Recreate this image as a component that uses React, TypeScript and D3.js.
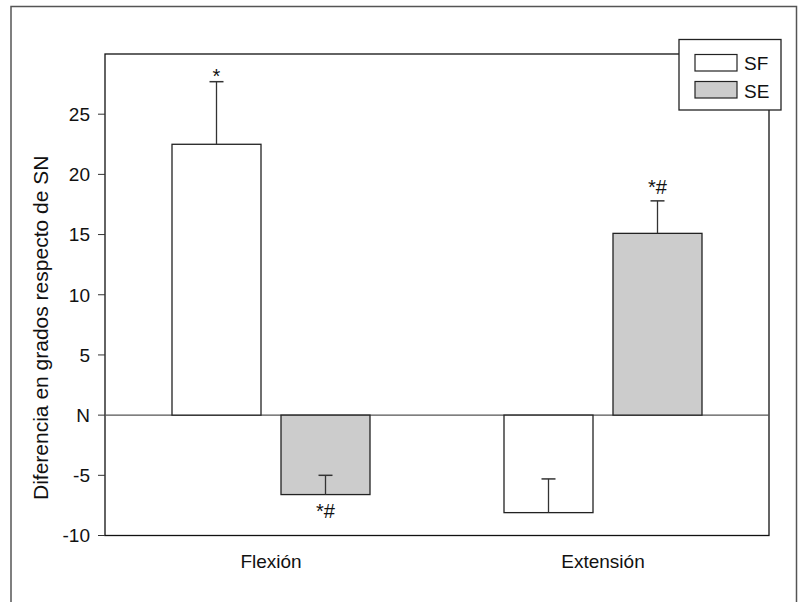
import React from 'react';
import {scaleBand, scaleLinear} from 'd3';

const categories = ['Flexión', 'Extensión'];
const seriesNames = ['SF', 'SE'];
const seriesFill = ['#ffffff', '#cccccc'];
const sfValues = [22.5, -8.1];
const seValues = [-6.6, 15.1];
// the error bar ends where the whisker cap sits
const sfErrEnd = [27.7, -5.3];
const seErrEnd = [-5.0, 17.8];
const sfMarks = ['*', ''];
const seMarks = ['*#', '*#'];
const yTicks = [-10, -5, 0, 5, 10, 15, 20, 25];
const yTickLabels = ['-10', '-5', 'N', '5', '10', '15', '20', '25'];
const yTitle = 'Diferencia en grados respecto de SN';

const W = 803;
const H = 602;
const plot = {left: 105, right: 769, top: 54, bottom: 535.5};
const font = '"Liberation Sans", Arial, sans-serif';

export default function App() {
    const x = scaleBand().domain(categories).range([plot.left, plot.right]);
    const y = scaleLinear().domain([-10, 30]).range([plot.bottom, plot.top]);

    const barW = 89;
    const gap = 20;
    const series = [
        {vals: sfValues, err: sfErrEnd, marks: sfMarks},
        {vals: seValues, err: seErrEnd, marks: seMarks},
    ];

    const legend = {x: 679, y: 39.5, w: 102, h: 70.5};

    return (
        <svg width={W} height={H} style={{position: 'absolute', left: 0, top: 0}} fontFamily={font}>
            <rect x={0} y={0} width={W} height={H} fill="#fff"/>
            {/* outer frame */}
            <rect x={11} y={6.5} width={785.5} height={620} fill="none" stroke="#555" strokeWidth={1.5}/>

            {/* plot frame */}
            <rect x={plot.left} y={plot.top} width={plot.right - plot.left} height={plot.bottom - plot.top}
                  fill="none" stroke="#111" strokeWidth={1.3}/>

            {/* zero line */}
            <line x1={plot.left} x2={plot.right} y1={y(0)} y2={y(0)} stroke="#555" strokeWidth={1.3}/>

            {/* y axis ticks */}
            {yTicks.map((t, i) => (
                <g key={t}>
                    <line x1={plot.left - 7} x2={plot.left} y1={y(t)} y2={y(t)} stroke="#333" strokeWidth={1}/>
                    <text x={plot.left - 15} y={y(t)} dy="0.36em" textAnchor="end" fontSize={19} fill="#111">
                        {yTickLabels[i]}
                    </text>
                </g>
            ))}

            <text transform="translate(48,500) rotate(-90)" textAnchor="start" fontSize={21} fill="#111">{yTitle}</text>

            {/* bars */}
            {categories.map((c, ci) => {
                const cx = x(c)! + x.bandwidth() / 2;
                return series.map((s, si) => {
                    const x0 = si === 0 ? cx - gap / 2 - barW : cx + gap / 2;
                    const bx = x0 + barW / 2;
                    const v = s.vals[ci];
                    const e = s.err[ci];
                    const yTop = y(Math.max(0, v));
                    const yBot = y(Math.min(0, v));
                    const mark = s.marks[ci];
                    let markY;
                    if (v > 0) markY = y(Math.max(v, e)) + (mark === '*' ? 1 : -7);
                    else markY = y(Math.min(v, e)) + 23;
                    return (
                        <g key={c + si}>
                            <rect x={x0} y={yTop} width={barW} height={yBot - yTop} fill={seriesFill[si]}
                                  stroke="#222" strokeWidth={1.3}/>
                            <line x1={bx} x2={bx} y1={y(v)} y2={y(e)} stroke="#333" strokeWidth={1.3}/>
                            <line x1={bx - 7} x2={bx + 7} y1={y(e)} y2={y(e)} stroke="#333" strokeWidth={1.5}/>
                            {mark && (
                                <text x={bx} y={markY} textAnchor="middle" fontSize={20} fill="#111">{mark}</text>
                            )}
                        </g>
                    );
                });
            })}

            {/* category labels */}
            {categories.map(c => (
                <text key={c} x={x(c)! + x.bandwidth() / 2} y={568} textAnchor="middle" fontSize={19} fill="#111">{c}</text>
            ))}

            {/* legend */}
            <rect x={legend.x} y={legend.y} width={legend.w} height={legend.h} fill="#fff" stroke="#222" strokeWidth={1.3}/>
            {seriesNames.map((n, i) => (
                <g key={n}>
                    <rect x={695} y={54.5 + i * 27} width={42} height={16.5} fill={seriesFill[i]} stroke="#222"
                          strokeWidth={1.2}/>
                    <text x={744} y={70 + i * 27.5} fontSize={19} fill="#111">{n}</text>
                </g>
            ))}
        </svg>
    );
}
